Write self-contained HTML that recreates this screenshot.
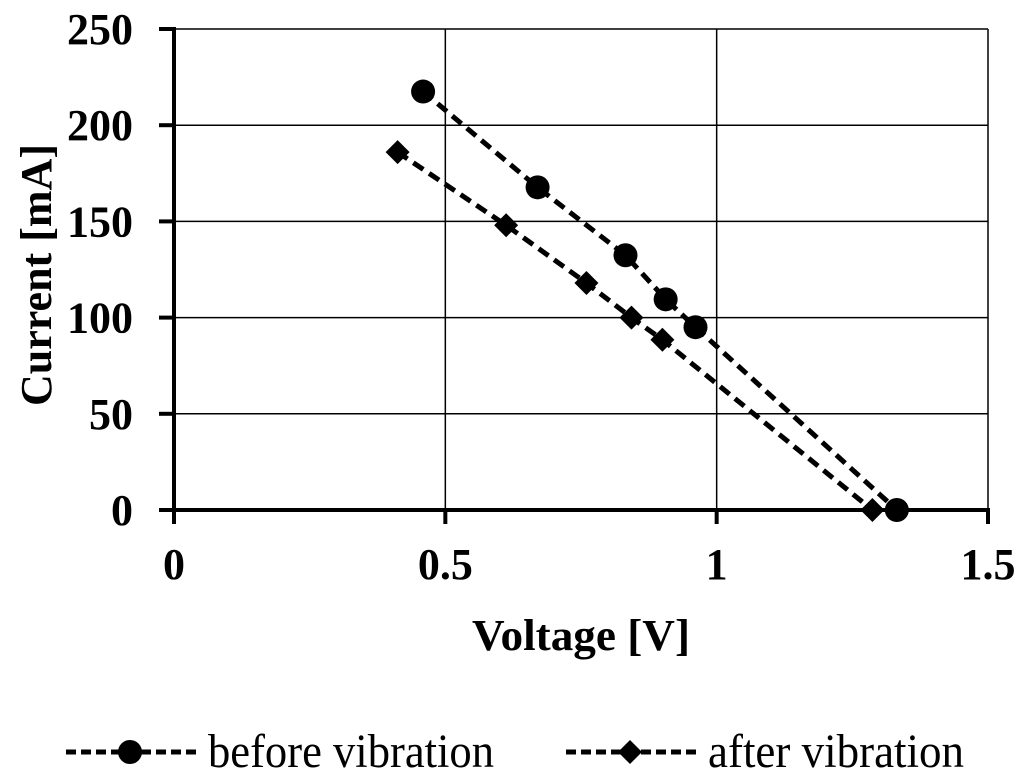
<!DOCTYPE html>
<html><head><meta charset="utf-8"><style>body{margin:0;background:#fff}svg{display:block}</style></head>
<body>
<svg id="chart" width="1024" height="780" xmlns="http://www.w3.org/2000/svg" font-family="Liberation Serif, serif">
<g id="grid"></g>
<g id="axes"></g>
<g id="series"></g>
<text transform="translate(51,275) rotate(-90)" text-anchor="middle" font-size="44" font-weight="bold" textLength="262" lengthAdjust="spacingAndGlyphs">Current [mA]</text>
<text x="581" y="650" text-anchor="middle" font-size="44" font-weight="bold" textLength="218" lengthAdjust="spacingAndGlyphs">Voltage [V]</text>
<g>
 <g>
  <line x1="66" y1="752" x2="200" y2="752" stroke="#000" stroke-width="5" stroke-dasharray="10,5"/>
  <circle cx="130" cy="752" r="12"/>
  <text x="208" y="767" font-size="48" textLength="286" lengthAdjust="spacingAndGlyphs">before vibration</text>
 </g>
 <g>
  <line x1="566" y1="752" x2="700" y2="752" stroke="#000" stroke-width="5" stroke-dasharray="10,5"/>
  <polygon points="630,740 642,752 630,764 618,752"/>
  <text x="708" y="767" font-size="48" textLength="256" lengthAdjust="spacingAndGlyphs">after vibration</text>
 </g>
</g>
</svg>
<script>
const xTicks=[0,0.5,1,1.5];
const yTicks=[0,50,100,150,200,250];
const beforeV=[0.459,0.670,0.832,0.906,0.961,1.332];
const beforeI=[217.5,167.7,132.4,109.5,95,0];
const afterV=[0.412,0.612,0.760,0.843,0.900,1.287];
const afterI=[186,148,118,100,88.5,0];
const X0=174,X1=988,Y0=510,Y1=29;
const sx=v=>X0+(v/1.5)*(X1-X0);
const sy=v=>Y0-(v/250)*(Y0-Y1);
const NS='http://www.w3.org/2000/svg';
function mk(p,t,a){const e=document.createElementNS(NS,t);for(const k in a)e.setAttribute(k,a[k]);p.appendChild(e);return e;}
const grid=document.getElementById('grid'),axes=document.getElementById('axes'),ser=document.getElementById('series');
yTicks.forEach(t=>{if(t>0){const l=mk(grid,'line',{x1:X0,x2:X1,y1:sy(t),y2:sy(t),stroke:'#000','stroke-width':1.5});

}
const tk=mk(axes,'line',{x1:X0-15,x2:X0,y1:sy(t),y2:sy(t),stroke:'#000','stroke-width':4});


const tx=mk(axes,'text',{x:X0-41,y:sy(t)+15,'text-anchor':'end','font-size':44,'font-weight':'bold'});tx.textContent=t;

});
xTicks.forEach(t=>{if(t>0){const l=mk(grid,'line',{x1:sx(t),x2:sx(t),y1:Y1,y2:Y0,stroke:'#000','stroke-width':1.5});

}
const tk=mk(axes,'line',{x1:sx(t),x2:sx(t),y1:Y0,y2:Y0+14,stroke:'#000','stroke-width':4});


const tx=mk(axes,'text',{x:sx(t),y:Y0+69,'text-anchor':'middle','font-size':44,'font-weight':'bold'});tx.textContent=t;

});
const ya=mk(axes,'line',{x1:X0,x2:X0,y1:Y1-2,y2:Y0+2,stroke:'#000','stroke-width':4});


const xa=mk(axes,'line',{x1:X0-2,x2:X1+2,y1:Y0,y2:Y0,stroke:'#000','stroke-width':4});


function line(V,I,name){const pl=mk(ser,'polyline',{points:V.map((v,i)=>sx(v)+','+sy(I[i])).join(' '),fill:'none',stroke:'#000','stroke-width':5,'stroke-dasharray':'12,7'});

}
line(beforeV,beforeI,'before-line');line(afterV,afterI,'after-line');
beforeV.forEach((v,i)=>{const c=mk(ser,'circle',{cx:sx(v),cy:sy(beforeI[i]),r:12});

});
afterV.forEach((v,i)=>{const x=sx(v),y=sy(afterI[i]);const p=mk(ser,'polygon',{points:`${x},${y-12} ${x+12},${y} ${x},${y+12} ${x-12},${y}`});

});
</script>
</body></html>
